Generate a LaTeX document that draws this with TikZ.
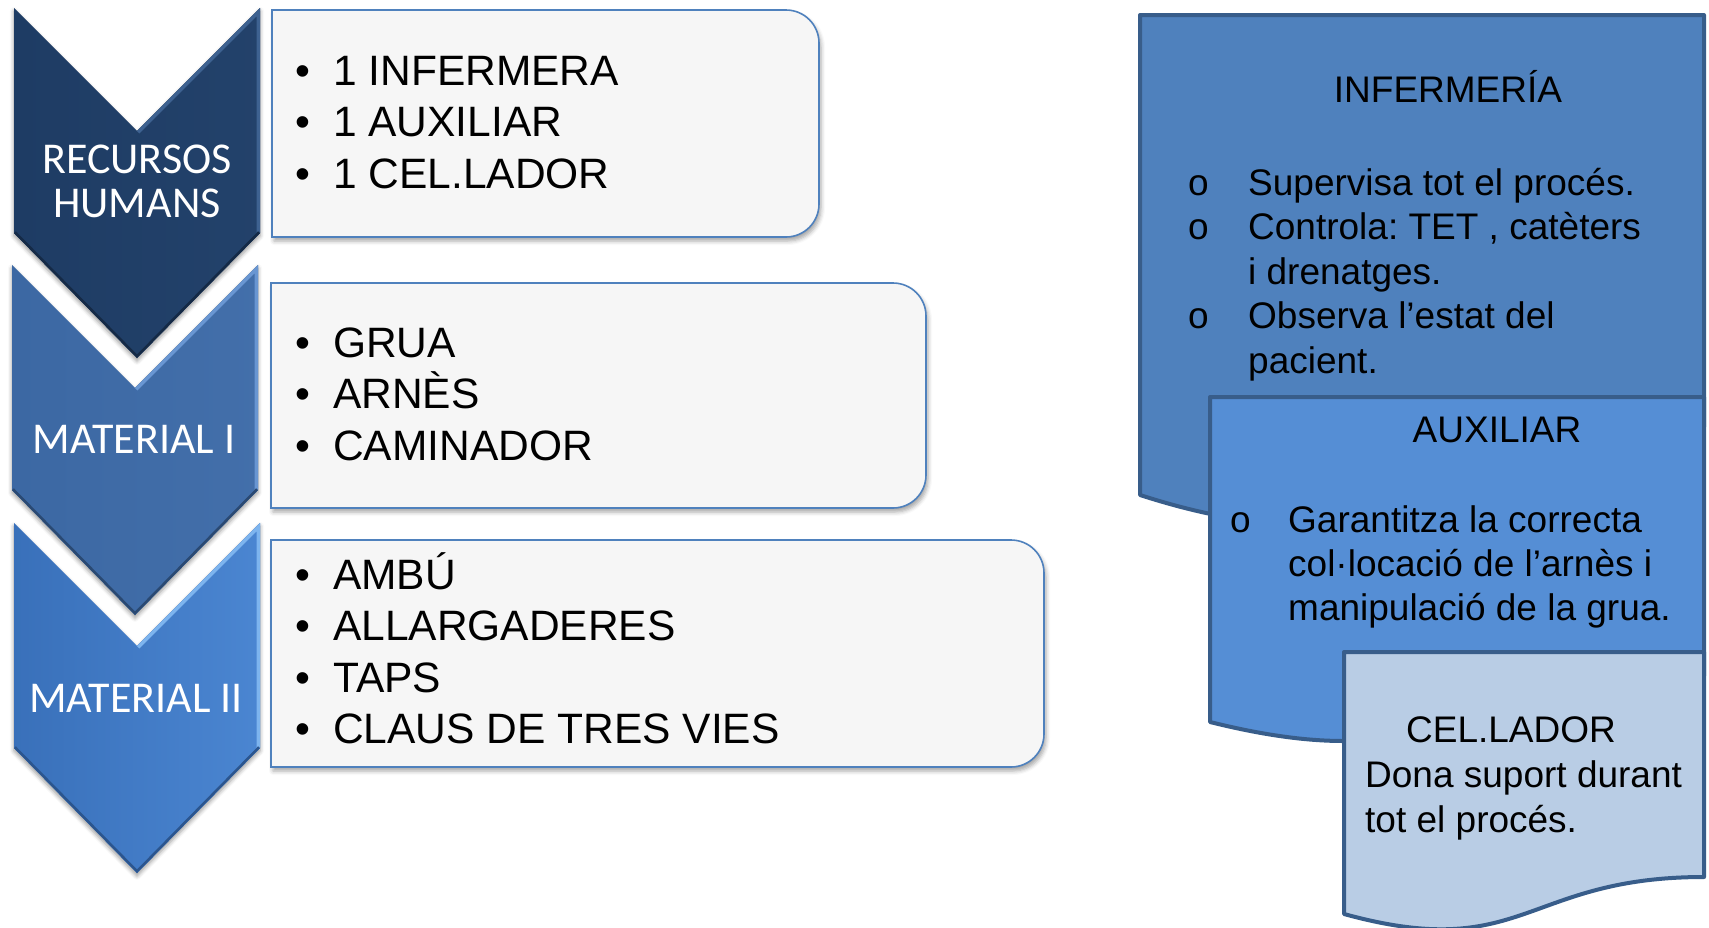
\documentclass[tikz,border=0pt]{standalone}
\usepackage{fontspec}
\setmainfont{Liberation Sans}
\newfontfamily\chevfont{Carlito}
\usetikzlibrary{shadows.blur}
\frenchspacing
\definecolor{chevA}{RGB}{30,60,100}
\definecolor{chevAl}{RGB}{62,98,145}
\definecolor{chevB}{RGB}{60,104,163}
\definecolor{chevBl}{RGB}{105,150,210}
\definecolor{chevC}{RGB}{62,122,202}
\definecolor{chevCl}{RGB}{125,180,238}
\definecolor{boxfill}{RGB}{246,246,246}
\definecolor{boxline}{RGB}{79,129,189}
\definecolor{docA}{RGB}{79,129,189}
\definecolor{docB}{RGB}{85,142,213}
\definecolor{docC}{RGB}{185,205,229}
\definecolor{docline}{RGB}{56,93,138}
\tikzset{
  chevtext/.style={inner sep=0pt, anchor=base, text=white, font=\chevfont\fontsize{44}{44}\selectfont},
  boxtxt/.style={inner sep=0pt, anchor=base west, text=black, font=\fontsize{42.5}{51}\selectfont},
  doctxt/.style={inner sep=0pt, anchor=base west, text=black, font=\fontsize{37}{44.6}\selectfont},
  doctitle/.style={inner sep=0pt, anchor=base, text=black, font=\fontsize{37}{44.6}\selectfont},
  listbox/.style={fill=boxfill, draw=boxline, line width=1.6pt,
    blur shadow={shadow xshift=2pt, shadow yshift=-4pt, shadow blur radius=4pt, shadow opacity=35}},
  docshape/.style={draw=docline, line width=4pt, line join=round},
  chevshadow/.style={blur shadow={shadow xshift=0pt, shadow yshift=-3pt, shadow blur radius=4pt, shadow opacity=40}}
}
\begin{document}
\begin{tikzpicture}[x=1pt,y=-1pt]
\useasboundingbox (0,0) rectangle (1709,927);

% ---------- chevrons ----------
% chevron 1
\fill[chevA, chevshadow] (14,8) -- (137,131) -- (260,8) -- (260,233) -- (137,358) -- (14,233) -- cycle;
\begin{scope}
  \clip (14,8) -- (137,131) -- (260,8) -- (260,233) -- (137,358) -- (14,233) -- cycle;
  \shade[left color=chevA, right color=chevA!85!chevAl] (14,8) rectangle (260,358);
  \draw[chevAl, line width=7pt] (137,131) -- (260,8) -- (260,233);
  \draw[chevA!70!black, line width=5pt] (14,233) -- (137,358) -- (260,233);
\end{scope}
% chevron 2
\fill[chevB, chevshadow] (12,265) -- (135,388) -- (258,265) -- (258,490) -- (135,615) -- (12,490) -- cycle;
\begin{scope}
  \clip (12,265) -- (135,388) -- (258,265) -- (258,490) -- (135,615) -- (12,490) -- cycle;
  \shade[left color=chevB, right color=chevB!85!chevBl] (12,265) rectangle (258,615);
  \draw[chevBl, line width=7pt] (135,388) -- (258,265) -- (258,490);
  \draw[chevB!70!black, line width=5pt] (12,490) -- (135,615) -- (258,490);
\end{scope}
% chevron 3
\fill[chevC, chevshadow] (14,523) -- (137,646) -- (260,523) -- (260,748) -- (137,873) -- (14,748) -- cycle;
\begin{scope}
  \clip (14,523) -- (137,646) -- (260,523) -- (260,748) -- (137,873) -- (14,748) -- cycle;
  \shade[left color=chevC!92!black, right color=chevC!80!chevCl] (14,523) rectangle (260,873);
  \draw[chevCl, line width=7pt] (137,646) -- (260,523) -- (260,748);
  \draw[chevC!70!black, line width=5pt] (14,748) -- (137,873) -- (260,748);
\end{scope}

\node[chevtext] (rec) at (137,173) {RECURSOS};
\node[chevtext] (hum) at (137,217) {HUMANS};
\node[chevtext] (mat1) at (134,453) {MATERIAL I};
\node[chevtext] (mat2) at (136,712) {MATERIAL II};

% ---------- list boxes ----------
\path[listbox] (272,10) -- (786,10) arc[start angle=-90, end angle=0, radius=33] -- (819,204)
  arc[start angle=0, end angle=90, radius=33] -- (272,237) -- cycle;
\path[listbox] (271,283) -- (893,283) arc[start angle=-90, end angle=0, radius=33] -- (926,475)
  arc[start angle=0, end angle=90, radius=33] -- (271,508) -- cycle;
\path[listbox] (271,540) -- (1011,540) arc[start angle=-90, end angle=0, radius=33] -- (1044,734)
  arc[start angle=0, end angle=90, radius=33] -- (271,767) -- cycle;

\node[boxtxt] (b1a) at (333,85) {1 INFERMERA};
\node[boxtxt] (b1b) at (333,136.5) {1 AUXILIAR};
\node[boxtxt] (b1c) at (333,188) {1 CEL.LADOR};
\node[boxtxt] (d1a) at (295,85) {•};
\node[boxtxt] (d1b) at (295,136.5) {•};
\node[boxtxt] (d1c) at (295,188) {•};

\node[boxtxt] (b2a) at (333,357) {GRUA};
\node[boxtxt] (b2b) at (333,408.5) {ARNÈS};
\node[boxtxt] (b2c) at (333,460) {CAMINADOR};
\node[boxtxt] (d2a) at (295,357) {•};
\node[boxtxt] (d2b) at (295,408.5) {•};
\node[boxtxt] (d2c) at (295,460) {•};

\node[boxtxt] (b3a) at (333,589) {AMBÚ};
\node[boxtxt] (b3b) at (333,640.5) {ALLARGADERES};
\node[boxtxt] (b3c) at (333,692) {TAPS};
\node[boxtxt] (b3d) at (333,743) {CLAUS DE TRES VIES};
\node[boxtxt] (d3a) at (295,589) {•};
\node[boxtxt] (d3b) at (295,640.5) {•};
\node[boxtxt] (d3c) at (295,692) {•};
\node[boxtxt] (d3d) at (295,743) {•};

% ---------- document shapes ----------
\path[docshape, fill=docA] (1140,15) -- (1704,15) -- (1704,427)
  .. controls (1422,427) and (1422,586) .. (1140,495) -- cycle;
\node[doctitle] (inf) at (1448,102) {INFERMERÍA};
\node[doctxt] (ia) at (1188,195) {o};
\node[doctxt] (ib) at (1188,239.6) {o};
\node[doctxt] (ic) at (1188,328.8) {o};
\node[doctxt] (ta) at (1248,195) {Supervisa tot el procés.};
\node[doctxt] (tb) at (1248,239.6) {Controla: TET , catèters};
\node[doctxt] (tb2) at (1248,284.2) {i drenatges.};
\node[doctxt] (tc) at (1248,328.8) {Observa l’estat del};
\node[doctxt] (tc2) at (1248,373.4) {pacient.};

\path[docshape, fill=docB] (1210,397) -- (1704,397) -- (1704,676)
  .. controls (1457,676) and (1457,783.5) .. (1210,722) -- cycle;
\node[doctitle] (aux) at (1497,442) {AUXILIAR};
\node[doctxt] (ja) at (1230,532) {o};
\node[doctxt] (ua) at (1288,532) {Garantitza la correcta};
\node[doctxt] (ub) at (1288,576) {col·locació de l’arnès i};
\node[doctxt] (uc) at (1288,620) {manipulació de la grua.};

\path[docshape, fill=docC] (1344,652) -- (1704,652) -- (1704,877)
  .. controls (1524,877) and (1524,963.5) .. (1344,914) -- cycle;
\node[doctitle] (cel) at (1511,742) {CEL.LADOR};
\node[doctxt] (ca) at (1365,787) {Dona suport durant};
\node[doctxt] (cb) at (1365,832) {tot el procés.};
\end{tikzpicture}
\end{document}
